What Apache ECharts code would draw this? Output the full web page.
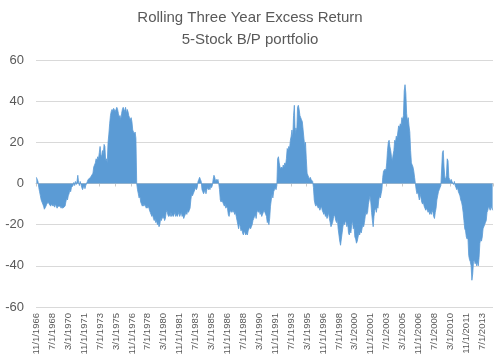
<!DOCTYPE html>
<html>
<head>
<meta charset="utf-8">
<script src="https://cdn.jsdelivr.net/npm/echarts@6/dist/echarts.min.js"></script>
<style>html,body{margin:0;padding:0;background:#fff}#c{width:500px;height:362px}</style>
</head>
<body>
<div id="c"></div>
<script>
// Monthly series starting 11/1/1966
const startYear = 1966;
const startMonth = 11;
const titleLines = ["Rolling Three Year Excess Return", "5-Stock B/P portfolio"];
const yTicks = [-60, -40, -20, 0, 20, 40, 60];
const excessReturn = [
  3, 2.5, 1, -2, -4, -6, -8, -9, -10, -11,
  -12.5, -12, -11, -10, -10.5, -9, -10, -10.5, -11, -10,
  -10.5, -11, -10, -11.5, -10, -11, -12, -11, -10.5, -11.5,
  -11, -12, -11, -12, -11.5, -12, -11, -9, -7, -8,
  -6, -5, -3, -4, -2, -2, -1, 0.5, -1, 1,
  -0.5, 1, 4, 0.5, -1, 1, -0.5, -2, -3, -2,
  -1, -2.5, -1, -0.5, 1, 2, 2.5, 2, 3, 2.5,
  3, 5, 8, 9, 10, 12, 11, 13, 12, 15,
  18, 14, 13, 16, 14, 19, 18, 11, 12, 10,
  20, 24, 29, 33, 35, 36, 35, 36.5, 37, 35,
  36, 37, 36, 34, 32, 33, 31, 34, 36, 37,
  36, 35, 37, 34, 36, 35, 33, 32, 31, 32,
  30, 26, 25, 24, 25, 22, 0, -3, -5, -7,
  -6, -9, -10, -11, -10, -11, -10, -11, -12, -11,
  -12, -11, -13, -14, -15, -16, -15, -17, -18, -17,
  -19, -18, -20, -19, -21, -20, -17, -18, -16, -17,
  -16, -18, -17, -14, -13, -15, -16, -15, -16, -14,
  -16, -15, -16, -15, -14, -16, -15, -16, -15, -14,
  -16, -15, -14, -16, -15, -17, -16, -15, -14, -15,
  -13, -14, -13, -12, -8, -5, -6, -5, -4, -3,
  -2, -3, -2, 1, 2, 3, 2, 1, -3, -4,
  -5, -4, -3, -5, -3, -2, -3, -2, -3, -1,
  -2, -1, 2, 4, 3, 1, 2, 1, 2, 0,
  -3, -8, -9, -8, -9, -10, -11, -10, -12, -11,
  -12, -15, -16, -14, -13, -14, -13, -14, -13, -15,
  -14, -16, -18, -20, -22, -19, -21, -23, -22, -24,
  -25, -23, -24, -25, -24, -25, -23, -22, -21, -22,
  -21, -20, -18, -17, -16, -15, -17, -14, -13, -14,
  -13, -15, -14, -16, -15, -14, -13, -14, -15, -16,
  -19, -18, -20, -17, -11, -8, -5, -7, -4, -3,
  -2, -3, -1, 12, 13, 10, 8, 7, 8, 7,
  9, 8, 10, 9, 12, 17, 16, 18, 17, 21,
  23, 26, 22, 33, 38, 24, 27, 25, 37, 38,
  36, 33, 32, 31, 30, 26, 22, 18, 20, 12,
  5, 4, 3, 2, 3, 2, 2, 1, -2, -8,
  -10, -11, -10, -11, -12, -11, -13, -12, -11, -13,
  -14, -15, -14, -16, -15, -17, -16, -14, -17, -19,
  -21, -20, -19, -17, -15, -16, -18, -19, -17, -22,
  -25, -28, -30, -27, -24, -21, -19, -20, -18, -19,
  -21, -19, -24, -25, -23, -24, -20, -18, -22, -21,
  -26, -27, -29, -28, -26, -24, -25, -23, -24, -22,
  -20, -21, -19, -16, -14, -15, -14, -10, -8, -6,
  -9, -14, -18, -21, -16, -13, -12, -14, -11, -12,
  -8, -6, -7, -5, -3, 3, 6, 6, 7, 6,
  10, 16, 20, 21, 18, 16, 13, 11, 14, 16,
  21, 20, 23, 22, 25, 28, 27, 29, 28, 32,
  31, 33, 45, 48, 44, 34, 30, 32, 28, 25,
  16, 10, 9, 8, 6, 3, 0, -3, -5, -4,
  -6, -8, -5, -7, -9, -10, -9, -11, -12, -13,
  -12, -13, -14, -13, -15, -14, -15, -13, -14, -16,
  -17, -14, -12, -8, -6, -4, -3, -2, -1, -0.5,
  15, 16, 8, 3, 2, 4, 12, 11, 3, 2,
  1, 2, 1, 0.5, -0.5, 1, -1, -2, -3, -2,
  -4, -5, -6, -8, -9, -11, -14, -18, -22, -23,
  -26, -27, -26, -35, -37, -38, -40, -47, -44, -38,
  -37, -39, -38, -40, -38, -40, -36, -29, -27, -28,
  -26, -22, -21, -20, -19, -18, -14, -13, -11, -12,
  -13, -11, -12, -13
];
const dates = [];
{
  let y = startYear, m = startMonth;
  for (let k = 0; k < excessReturn.length; k++) {
    dates.push(m + "/1/" + y);
    m++; if (m > 12) { m = 1; y++; }
  }
}
const chart = echarts.init(document.getElementById('c'), null, {renderer: 'canvas'});
const txt = '#595959';
const font = "'Liberation Sans', Arial, sans-serif";
chart.setOption({
  animation: false,
  title: {
    text: titleLines.join('\n'),
    left: 'center', top: 2,
    textStyle: {color: txt, fontSize: 15, fontWeight: 'normal', fontFamily: font, lineHeight: 22}
  },
  grid: {left: 36, right: 7, top: 60, bottom: 55, containLabel: false},
  xAxis: [{
    type: 'category', data: dates, boundaryGap: true,
    axisLine: {show: false, onZero: false},
    axisTick: {show: false},
    axisLabel: {interval: 19, rotate: 90, color: txt, fontSize: 9.5, fontFamily: font, margin: 6},
    splitLine: {show: false}
  }, {
    type: 'category', data: dates, boundaryGap: true, position: 'bottom',
    axisLine: {show: true, onZero: true, lineStyle: {color: '#C8C8C8', width: 1}},
    axisTick: {show: true, interval: 19, length: 3, inside: false, lineStyle: {color: '#C8C8C8'}},
    axisLabel: {show: false}
  }],
  yAxis: {
    type: 'value', min: yTicks[0], max: yTicks[yTicks.length - 1], interval: 20,
    axisLine: {show: false}, axisTick: {show: false},
    axisLabel: {color: txt, fontSize: 13, fontFamily: font, margin: 12},
    splitLine: {lineStyle: {color: '#D9D9D9', width: 1}}
  },
  series: [{
    type: 'line', data: excessReturn, xAxisIndex: 0,
    symbol: 'none', smooth: false,
    lineStyle: {color: '#5B9BD5', width: 0.8},
    areaStyle: {color: '#5B9BD5', opacity: 1, origin: 0},
    z: 1
  }]
});
</script>
</body>
</html>
